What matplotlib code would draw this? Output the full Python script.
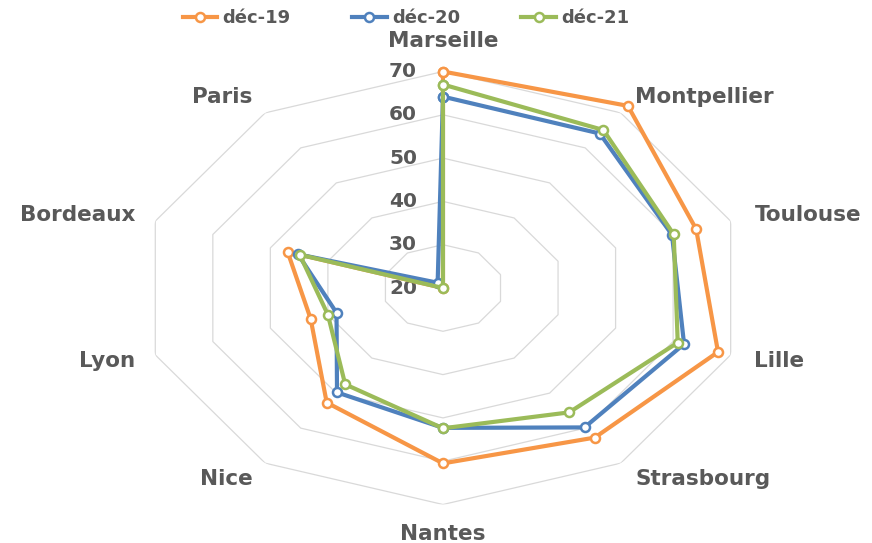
import numpy as np
import matplotlib
matplotlib.use("Agg")
import matplotlib.pyplot as plt
from matplotlib.transforms import offset_copy
from matplotlib.lines import Line2D

plt.rcParams['font.family'] = ['DejaVu Sans']

cities = ['Marseille', 'Montpellier', 'Toulouse', 'Lille', 'Strasbourg',
          'Nantes', 'Nice', 'Lyon', 'Bordeaux', 'Paris']
dec19 = [70.0, 72.0, 64.0, 67.8, 62.7, 60.5, 52.7, 43.0, 47.0, 20.0]
dec20 = [64.2, 64.1, 59.8, 61.9, 59.8, 52.3, 49.8, 38.5, 45.2, 21.5]
dec21 = [67.0, 65.1, 60.1, 60.8, 55.5, 52.4, 47.5, 40.0, 44.9, 20.0]
series_names = ['déc-19', 'déc-20', 'déc-21']
r_ticks = [20, 30, 40, 50, 60, 70]

colors = ['#F79646', '#4F81BD', '#9BBB59']
text_color = '#595959'
grid_color = '#D9D9D9'

fig = plt.figure(figsize=(8.72, 5.43), dpi=100)
ax = fig.add_axes([0.1611, 0.0709, 0.6938, 0.7974], projection='polar')
ax.set_aspect('auto')
ax.set_theta_offset(np.pi / 2)
ax.set_theta_direction(-1)
ax.set_ylim(r_ticks[0], r_ticks[-1])
ax.grid(False)
ax.set_xticks([])
ax.set_yticks([])
ax.spines['polar'].set_visible(False)
ax.patch.set_visible(False)

n = len(cities)
angles = np.arange(n) * 2 * np.pi / n
closed = np.append(angles, angles[0])

# polygonal rings
for r in r_ticks[1:]:
    ax.plot(closed, [r] * (n + 1), color=grid_color, lw=0.9, zorder=1)

# value labels along the vertical axis
for r in r_ticks:
    tr = offset_copy(ax.transData, fig=fig, x=-26, y=0, units='dots')
    ax.text(0, r, str(r), transform=tr, ha='right', va='center',
            fontsize=14.5, fontweight='bold', color=text_color)

# category labels
for ang, name in zip(angles, cities):
    s, c = np.sin(ang), np.cos(ang)
    if abs(s) < 1e-6:
        dx, dy, ha = 0, (31 if c > 0 else -29), 'center'
    else:
        dx, dy = (25 if s > 0 else 21) * s, 19 * c
        ha = 'left' if s > 0 else 'right'
    tr = offset_copy(ax.transData, fig=fig, x=dx, y=dy, units='dots')
    ax.text(ang, r_ticks[-1], name, transform=tr, ha=ha, va='center',
            fontsize=15.5, fontweight='bold', color=text_color, clip_on=False)

handles = []
for vals, col, name, z in zip([dec19, dec20, dec21], colors, series_names, [3, 4, 5]):
    v = np.append(vals, vals[0])
    ax.plot(closed, v, color=col, lw=3, marker='o', ms=6.5,
            markerfacecolor='white', markeredgecolor=col, markeredgewidth=1.8,
            clip_on=False, zorder=z, solid_joinstyle='round')
    handles.append(Line2D([], [], color=col, lw=3, marker='o', ms=6.5,
                          markerfacecolor='white', markeredgecolor=col,
                          markeredgewidth=1.8, label=name))

leg = fig.legend(handles=handles, loc='center left',
                 bbox_to_anchor=(183 / 872, 1 - 18 / 543), ncol=3,
                 frameon=False, borderpad=0, borderaxespad=0,
                 handlelength=1.9, handletextpad=0.3, columnspacing=3.4,
                 prop={'size': 13, 'weight': 'bold'})
for t in leg.get_texts():
    t.set_color(text_color)

fig.savefig('out.png', dpi=100)
